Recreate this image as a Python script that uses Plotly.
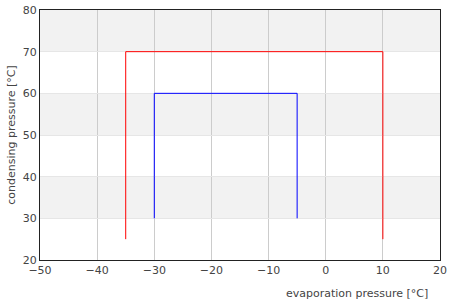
import plotly.graph_objects as go

# data
outer_x = [-35, -35, 10, 10]
outer_y = [25, 70, 70, 25]
inner_x = [-30, -30, -5, -5]
inner_y = [30, 60, 60, 30]
band_ranges = [(30, 40), (50, 60), (70, 80)]
x_ticks = [-50, -40, -30, -20, -10, 0, 10, 20]
y_ticks = [20, 30, 40, 50, 60, 70, 80]

FONT = "DejaVu Sans"

fig = go.Figure()
fig.add_trace(go.Scatter(x=outer_x, y=outer_y, mode="lines",
                         line=dict(color="#ff0000", width=1), showlegend=False))
fig.add_trace(go.Scatter(x=inner_x, y=inner_y, mode="lines",
                         line=dict(color="#0000ff", width=1), showlegend=False))

shapes = []
for lo, hi in band_ranges:
    shapes.append(dict(type="rect", xref="paper", yref="y", x0=0, x1=1, y0=lo, y1=hi,
                       fillcolor="#f2f2f2", line=dict(width=0), layer="below"))

fig.update_layout(
    width=450, height=300,
    margin=dict(l=40, r=10, t=10, b=40, autoexpand=False),
    paper_bgcolor="white", plot_bgcolor="white",
    font=dict(family=FONT, size=11, color="#444"),
    shapes=shapes,
    xaxis=dict(range=[-50, 20], tickvals=x_ticks, showgrid=True, gridcolor="#cccccc",
               gridwidth=1, zeroline=False, showline=True, linecolor="#222", linewidth=1,
               mirror=True, ticks="", automargin=False, tickfont=dict(size=11, color="#444")),
    yaxis=dict(range=[20, 80], tickvals=y_ticks, showgrid=True, gridcolor="#e6e6e6",
               gridwidth=1, zeroline=False, showline=True, linecolor="#222", linewidth=1,
               mirror=True, ticks="", automargin=False, tickfont=dict(size=11, color="#444"),
               title=dict(text="condensing pressure [°C]", font=dict(size=11, color="#444"),
                          standoff=4)),
    annotations=[dict(text="evaporation pressure [°C]", xref="paper", yref="paper",
                      x=1, y=-0.1, xanchor="right", yanchor="top", showarrow=False,
                      xshift=-10, font=dict(size=11, color="#444"))],
)

fig.write_html("out.html")
